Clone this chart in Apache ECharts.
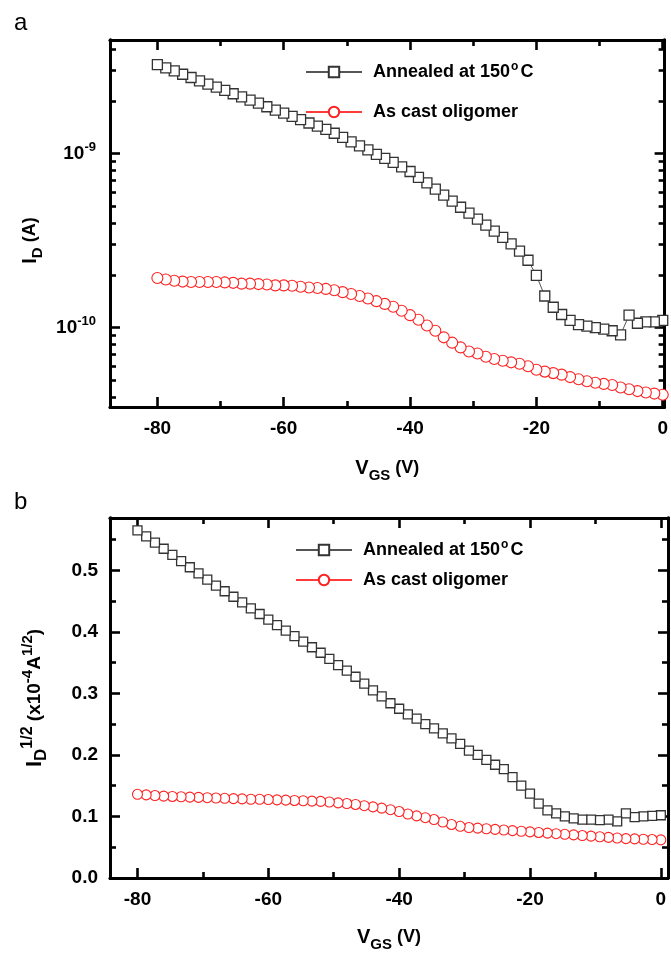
<!DOCTYPE html>
<html>
<head>
<meta charset="utf-8">
<script src="https://cdn.jsdelivr.net/npm/echarts@6/dist/echarts.min.js"></script>
<style>
html,body{margin:0;padding:0;background:#fff;}
#c{width:671px;height:953px;}
</style>
</head>
<body>
<div id="c"></div>
<script>
// ---------------- data ----------------
const vgs = [-80, -78.67, -77.33, -76, -74.67, -73.33, -72, -70.67, -69.33, -68,
  -66.67, -65.33, -64, -62.67, -61.33, -60, -58.67, -57.33, -56, -54.67,
  -53.33, -52, -50.67, -49.33, -48, -46.67, -45.33, -44, -42.67, -41.33,
  -40, -38.67, -37.33, -36, -34.67, -33.33, -32, -30.67, -29.33, -28,
  -26.67, -25.33, -24, -22.67, -21.33, -20, -18.67, -17.33, -16, -14.67,
  -13.33, -12, -10.67, -9.33, -8, -6.67, -5.33, -4, -2.67, -1.33, 0];

// panel a : I_D (A), log scale
const annealedTop = [3.25e-9, 3.11e-9, 2.99e-9, 2.86e-9, 2.74e-9, 2.62e-9, 2.51e-9, 2.41e-9, 2.31e-9, 2.21e-9,
  2.12e-9, 2.03e-9, 1.95e-9, 1.86e-9, 1.78e-9, 1.71e-9, 1.64e-9, 1.57e-9, 1.50e-9, 1.44e-9,
  1.38e-9, 1.31e-9, 1.24e-9, 1.17e-9, 1.11e-9, 1.05e-9, 9.9e-10, 9.4e-10, 8.9e-10, 8.4e-10,
  7.9e-10, 7.3e-10, 6.8e-10, 6.25e-10, 5.78e-10, 5.33e-10, 4.92e-10, 4.55e-10, 4.2e-10, 3.88e-10,
  3.59e-10, 3.3e-10, 3.03e-10, 2.75e-10, 2.44e-10, 2.0e-10, 1.52e-10, 1.31e-10, 1.19e-10, 1.1e-10,
  1.04e-10, 1.02e-10, 1.0e-10, 9.8e-11, 9.6e-11, 9.1e-11, 1.18e-10, 1.06e-10, 1.08e-10, 1.08e-10, 1.1e-10];
const castTop = [1.93e-10, 1.89e-10, 1.86e-10, 1.84e-10, 1.83e-10, 1.83e-10, 1.83e-10, 1.83e-10, 1.82e-10, 1.81e-10,
  1.79e-10, 1.79e-10, 1.78e-10, 1.77e-10, 1.75e-10, 1.75e-10, 1.74e-10, 1.72e-10, 1.70e-10, 1.69e-10,
  1.67e-10, 1.64e-10, 1.60e-10, 1.56e-10, 1.52e-10, 1.47e-10, 1.42e-10, 1.37e-10, 1.32e-10, 1.25e-10,
  1.18e-10, 1.11e-10, 1.03e-10, 9.6e-11, 8.8e-11, 8.2e-11, 7.7e-11, 7.3e-11, 7.1e-11, 6.8e-11,
  6.6e-11, 6.45e-11, 6.32e-11, 6.2e-11, 6.0e-11, 5.73e-11, 5.59e-11, 5.48e-11, 5.37e-11, 5.2e-11,
  5.05e-11, 4.92e-11, 4.82e-11, 4.75e-11, 4.68e-11, 4.53e-11, 4.43e-11, 4.32e-11, 4.24e-11, 4.18e-11, 4.12e-11];

// panel b : I_D^1/2 (x10^-4 A^1/2), linear scale
const annealedBottom = [0.565, 0.555, 0.545, 0.535, 0.525, 0.515, 0.505, 0.495, 0.485, 0.475,
  0.466, 0.457, 0.448, 0.438, 0.429, 0.420, 0.411, 0.402, 0.393, 0.384,
  0.375, 0.366, 0.356, 0.346, 0.337, 0.327, 0.316, 0.305, 0.295, 0.284,
  0.275, 0.266, 0.259, 0.250, 0.243, 0.235, 0.227, 0.218, 0.207, 0.200,
  0.192, 0.184, 0.177, 0.164, 0.150, 0.137, 0.121, 0.110, 0.105, 0.100,
  0.097, 0.095, 0.095, 0.094, 0.095, 0.092, 0.105, 0.099, 0.100, 0.101, 0.102];
const castBottom = [0.136, 0.135, 0.134, 0.133, 0.1325, 0.132, 0.1315, 0.131, 0.1305, 0.130,
  0.1295, 0.129, 0.1285, 0.128, 0.128, 0.1275, 0.127, 0.1265, 0.126, 0.1255,
  0.125, 0.1245, 0.1235, 0.122, 0.121, 0.1195, 0.1175, 0.1155, 0.1135, 0.111,
  0.108, 0.104, 0.101, 0.098, 0.095, 0.091, 0.087, 0.084, 0.082, 0.081,
  0.080, 0.079, 0.078, 0.077, 0.076, 0.075, 0.074, 0.073, 0.072, 0.071,
  0.070, 0.069, 0.068, 0.067, 0.066, 0.065, 0.064, 0.0635, 0.063, 0.0625, 0.062];

const seriesNames = ['Annealed at 150 C', 'As cast oligomer'];

// axis ticks
const xMajor = [-80, -60, -40, -20, 0];
const xMinor = [-70, -50, -30, -10];
const logMajor = [1e-10, 1e-9];
const logMinor = [4e-11, 5e-11, 6e-11, 7e-11, 8e-11, 9e-11,
  2e-10, 3e-10, 4e-10, 5e-10, 6e-10, 7e-10, 8e-10, 9e-10, 2e-9, 3e-9, 4e-9];
const linMajor = [0, 0.1, 0.2, 0.3, 0.4, 0.5];
const linMinor = [0.05, 0.15, 0.25, 0.35, 0.45, 0.55];

// axis ranges
const xRangeTop = [-87.5, 0.3];
const xRangeBottom = [-84.2, 1.1];
const yRangeTop = [3.5e-11, 4.5e-9];
const yRangeBottom = [0, 0.585];

// ---------------- chart ----------------
const FONT = "'Liberation Sans', Arial, sans-serif";
const BLACK = '#000';
const MAJOR_LEN = 10, MINOR_LEN = 6;

function pairs(xs, ys) {
  // measurement order: sweep from 0 V to -80 V
  const out = [];
  for (let i = xs.length - 1; i >= 0; i--) out.push([xs[i], ys[i]]);
  return out;
}

const lineAx = {show: true, onZero: false, lineStyle: {color: BLACK, width: 2.8}};
function tick(values, len) {
  return {show: true, inside: true, length: len, customValues: values, lineStyle: {color: BLACK, width: 2.6}};
}
const noLabel = {show: false};
const noSplit = {show: false};

const tickLabelStyle = {fontSize: 19, fontWeight: 'bold', fontFamily: FONT, color: BLACK};

function richSet(big, sub, mid, sup, small) {
  return {
    v: {fontSize: big, fontWeight: 'bold', fontFamily: FONT, color: BLACK, lineHeight: 30, verticalAlign: 'middle'},
    s: {fontSize: sub, fontWeight: 'bold', fontFamily: FONT, color: BLACK, verticalAlign: 'bottom'},
    n: {fontSize: mid, fontWeight: 'bold', fontFamily: FONT, color: BLACK, verticalAlign: 'middle'},
    p: {fontSize: sup, fontWeight: 'bold', fontFamily: FONT, color: BLACK, verticalAlign: 'top'},
    m: {fontSize: mid, fontWeight: 'bold', fontFamily: FONT, color: BLACK, verticalAlign: 'middle'},
    q: {fontSize: small, fontWeight: 'bold', fontFamily: FONT, color: BLACK, verticalAlign: 'top'}
  };
}
const nameRich = richSet(20, 15, 18, 14, 12);
const nameRichB = richSet(22, 17, 19, 16, 15);

function xAxesFor(grid, range, nameGap) {
  const base = {type: 'value', gridIndex: grid, min: range[0], max: range[1], splitLine: noSplit};
  return [
    Object.assign({}, base, {
      position: 'bottom', axisLine: lineAx, axisTick: tick(xMajor, MAJOR_LEN),
      axisLabel: Object.assign({show: true, customValues: xMajor, margin: 12}, tickLabelStyle),
      name: '{v|V}{s|GS}{n| (V)}', nameLocation: 'middle', nameGap: nameGap,
      nameTextStyle: {rich: nameRich}
    }),
    Object.assign({}, base, {position: 'bottom', axisLine: lineAx, axisTick: tick(xMinor, MINOR_LEN), axisLabel: noLabel}),
    Object.assign({}, base, {position: 'top', axisLine: lineAx, axisTick: tick(xMajor, MAJOR_LEN), axisLabel: noLabel}),
    Object.assign({}, base, {position: 'top', axisLine: lineAx, axisTick: tick(xMinor, MINOR_LEN), axisLabel: noLabel})
  ];
}

const L = Math.log10;
const logMin = L(yRangeTop[0]), logMax = L(yRangeTop[1]);
const logBase = {type: 'value', gridIndex: 0, min: logMin, max: logMax, splitLine: noSplit};
const yAxesTop = [
  {type: 'log', gridIndex: 0, min: yRangeTop[0], max: yRangeTop[1], show: false,
    axisLine: {show: false, onZero: false}, splitLine: noSplit},
  Object.assign({}, logBase, {
    position: 'left', axisLine: lineAx, axisTick: tick(logMajor.map(L), MAJOR_LEN),
    axisLabel: {
      show: true, customValues: logMajor.map(L), margin: 14,
      formatter: function (v) { return '{b|10}{e|' + Math.round(v) + '}'; },
      rich: {
        b: {fontSize: 19, fontWeight: 'bold', fontFamily: FONT, color: BLACK, lineHeight: 26, verticalAlign: 'middle'},
        e: {fontSize: 13, fontWeight: 'bold', fontFamily: FONT, color: BLACK, verticalAlign: 'top'}
      }
    },
    name: '{v|I}{s|D}{n| (A)}', nameLocation: 'middle', nameGap: 48,
    nameTextStyle: {rich: nameRich, padding: [0, 34, 0, 0]}
  }),
  Object.assign({}, logBase, {position: 'left', axisLine: lineAx, axisTick: tick(logMinor.map(L), MINOR_LEN), axisLabel: noLabel}),
  Object.assign({}, logBase, {position: 'right', axisLine: lineAx, axisTick: tick(logMajor.map(L), MAJOR_LEN), axisLabel: noLabel}),
  Object.assign({}, logBase, {position: 'right', axisLine: lineAx, axisTick: tick(logMinor.map(L), MINOR_LEN), axisLabel: noLabel})
];

const linBase = {type: 'value', gridIndex: 1, min: yRangeBottom[0], max: yRangeBottom[1], splitLine: noSplit};
const yAxesBottom = [
  Object.assign({}, linBase, {
    position: 'left', axisLine: lineAx, axisTick: tick(linMajor, MAJOR_LEN),
    axisLabel: Object.assign({show: true, customValues: linMajor, margin: 12,
      formatter: function (v) { return v.toFixed(1); }}, tickLabelStyle),
    name: '{v|I}{s|D}{p|1/2}{m| (x10}{q|-4}{m|A}{q|1/2}{m|)}', nameLocation: 'middle', nameGap: 60,
    nameTextStyle: {rich: nameRichB}
  }),
  Object.assign({}, linBase, {position: 'left', axisLine: lineAx, axisTick: tick(linMinor, MINOR_LEN), axisLabel: noLabel}),
  Object.assign({}, linBase, {position: 'right', axisLine: lineAx, axisTick: tick(linMajor, MAJOR_LEN), axisLabel: noLabel}),
  Object.assign({}, linBase, {position: 'right', axisLine: lineAx, axisTick: tick(linMinor, MINOR_LEN), axisLabel: noLabel})
];

const xAxes = xAxesFor(0, xRangeTop, 46).concat(xAxesFor(1, xRangeBottom, 44));
const yAxes = yAxesTop.concat(yAxesBottom);

function squareSeries(xIdx, yIdx, ys, size) {
  return {
    name: seriesNames[0], type: 'line', xAxisIndex: xIdx, yAxisIndex: yIdx,
    data: pairs(vgs, ys), symbol: 'rect', symbolSize: size, showAllSymbol: true,
    lineStyle: {color: '#555', width: 1},
    itemStyle: {color: '#fff', borderColor: '#333', borderWidth: 1.3},
    emphasis: {disabled: true}, animation: false, z: 3
  };
}
function circleSeries(xIdx, yIdx, ys, size) {
  return {
    name: seriesNames[1], type: 'line', xAxisIndex: xIdx, yAxisIndex: yIdx,
    data: pairs(vgs, ys), symbol: 'circle', symbolSize: size, showAllSymbol: true,
    lineStyle: {color: '#ff3b3b', width: 1},
    itemStyle: {color: '#fff', borderColor: '#ff2020', borderWidth: 1.1},
    emphasis: {disabled: true}, animation: false, z: 2
  };
}

const legendText = {
  fontSize: 18, fontWeight: 'bold', fontFamily: FONT, color: BLACK, lineHeight: 22,
  padding: [0, 0, 0, 6],
  rich: {
    t: {fontSize: 18, fontWeight: 'bold', fontFamily: FONT, color: BLACK, lineHeight: 22, verticalAlign: 'middle'},
    o: {fontSize: 12, fontWeight: 'bold', fontFamily: FONT, color: BLACK, verticalAlign: 'top', padding: [0, 2, 0, 1]}
  }
};
function legendFmt(name) {
  return name === seriesNames[0] ? '{t|Annealed at 150}{o|o}{t|C}' : '{t|' + name + '}';
}

const option = {
  backgroundColor: '#fff',
  animation: false,
  grid: [
    {left: 110, right: 3, top: 40, height: 367},
    {left: 110, right: 3, top: 518, height: 365}
  ],
  xAxis: xAxes,
  yAxis: yAxes,
  legend: [
    {data: seriesNames, orient: 'vertical', left: 305, top: 61, itemWidth: 56, itemHeight: 13, itemGap: 18,
      padding: 0, selectedMode: false, formatter: legendFmt, textStyle: legendText},
    {data: seriesNames, orient: 'vertical', left: 295, top: 539, itemWidth: 56, itemHeight: 13, itemGap: 8,
      padding: 0, selectedMode: false, formatter: legendFmt, textStyle: legendText}
  ],
  graphic: [
    {type: 'text', left: 14, top: 11, style: {text: 'a', fontSize: 24, fontFamily: FONT, fill: BLACK}},
    {type: 'text', left: 14, top: 490, style: {text: 'b', fontSize: 24, fontFamily: FONT, fill: BLACK}}
  ],
  series: [
    squareSeries(0, 0, annealedTop, 10),
    circleSeries(0, 0, castTop, 11),
    squareSeries(4, 5, annealedBottom, 9),
    circleSeries(4, 5, castBottom, 10)
  ]
};

const chart = echarts.init(document.getElementById('c'), null, {renderer: 'canvas'});
chart.setOption(option);
</script>
</body>
</html>
